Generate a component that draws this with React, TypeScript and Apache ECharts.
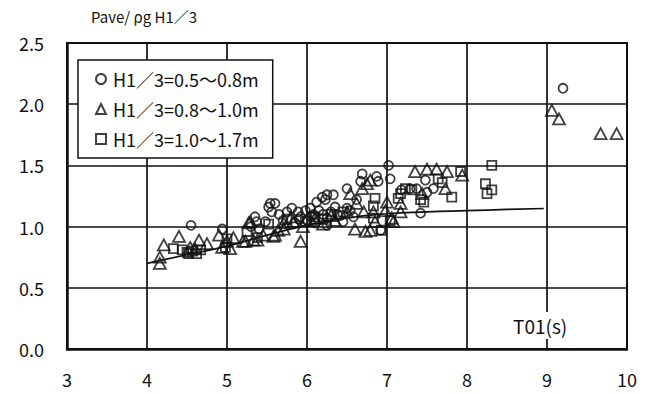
import React, { useEffect, useRef } from "react";
import * as echarts from "echarts";

const xTicks = [3, 4, 5, 6, 7, 8, 9, 10];
const yTicks = [0, 0.5, 1.0, 1.5, 2.0, 2.5];

const seriesNames = ["H1／3=0.5〜0.8m", "H1／3=0.8〜1.0m", "H1／3=1.0〜1.7m"];

const circleData: number[][] = [
  [4.55, 1.01], [4.94, 0.98], [5.3, 1.0], [5.35, 1.08], [5.37, 1.04], [5.4, 0.98], [5.48, 1.04],
  [5.54, 1.19], [5.6, 1.19], [5.56, 1.12], [5.52, 1.16], [5.65, 1.1], [5.7, 1.05], [5.75, 1.12],
  [5.81, 1.15], [5.85, 1.03], [5.89, 1.12], [5.9, 1.06], [5.92, 1.08], [5.98, 1.13], [6.0, 1.05],
  [6.04, 1.15], [6.05, 1.08], [6.08, 1.1], [6.1, 1.03], [6.12, 1.2], [6.15, 1.13], [6.19, 1.24],
  [6.2, 1.1], [6.23, 1.22], [6.25, 1.26], [6.25, 1.07], [6.25, 1.01], [6.3, 1.12], [6.33, 1.26],
  [6.35, 1.16], [6.38, 1.1], [6.42, 1.09], [6.45, 1.04], [6.5, 1.31], [6.5, 1.15], [6.54, 1.13],
  [6.58, 1.08], [6.62, 1.22], [6.67, 1.37], [6.69, 1.43], [6.87, 1.41], [6.89, 1.37], [6.92, 0.97],
  [7.02, 1.5], [7.04, 1.39], [7.18, 1.3], [7.29, 1.31], [7.37, 1.31], [7.42, 1.11], [7.48, 1.38],
  [7.5, 1.28], [7.58, 1.31], [9.2, 2.13],
];

const triangleData: number[][] = [
  [4.16, 0.7], [4.16, 0.75], [4.21, 0.85], [4.4, 0.92], [4.54, 0.83], [4.6, 0.82], [4.65, 0.89],
  [4.75, 0.86], [4.9, 0.93], [4.94, 0.83], [5.04, 0.82], [5.0, 0.88], [5.08, 0.91], [5.2, 0.88],
  [5.23, 0.88], [5.27, 1.03], [5.29, 1.04], [5.33, 0.89], [5.38, 0.89], [5.45, 0.93], [5.58, 0.92],
  [5.6, 0.93], [5.64, 0.97], [5.71, 1.03], [5.71, 0.98], [5.8, 1.08], [5.83, 1.04], [5.92, 0.88],
  [5.95, 1.0], [6.05, 1.05], [6.1, 1.07], [6.2, 1.02], [6.3, 1.09], [6.35, 1.05], [6.5, 1.12],
  [6.54, 1.27], [6.62, 1.19], [6.6, 0.98], [6.69, 1.31], [6.71, 1.12], [6.73, 0.96], [6.75, 1.35],
  [6.79, 0.97], [6.79, 1.38], [6.83, 1.12], [6.85, 1.04], [6.98, 1.13], [7.0, 1.2], [7.06, 1.07],
  [7.08, 1.04], [7.17, 1.19], [7.17, 1.12], [7.35, 1.45], [7.44, 1.27], [7.5, 1.47], [7.62, 1.47],
  [7.73, 1.31], [7.75, 1.45], [7.94, 1.42], [9.06, 1.95], [9.15, 1.88], [9.67, 1.76], [9.87, 1.76],
];

const squareData: number[][] = [
  [4.33, 0.82], [4.44, 0.81], [4.5, 0.79], [4.52, 0.78], [4.57, 0.8], [4.62, 0.78], [4.67, 0.81],
  [4.98, 0.83], [5.0, 0.9], [5.25, 0.96], [5.38, 0.91], [5.52, 1.02], [5.75, 1.06], [5.98, 1.04],
  [6.1, 1.08], [6.2, 1.06], [6.3, 1.1], [6.45, 1.12], [6.83, 1.17], [6.85, 1.23], [6.83, 1.07],
  [6.93, 0.97], [7.04, 1.05], [7.14, 1.23], [7.17, 1.27], [7.23, 1.31], [7.31, 1.3], [7.42, 1.22],
  [7.46, 1.2], [7.64, 1.39], [7.69, 1.36], [7.81, 1.24], [7.92, 1.45], [8.23, 1.35], [8.25, 1.27],
  [8.31, 1.3], [8.31, 1.5],
];

const fitX = [4.0, 4.5, 5.0, 5.5, 6.0, 6.5, 7.0, 7.5, 8.0, 8.5, 8.96];
const fitY = [0.7, 0.77, 0.84, 0.93, 1.01, 1.07, 1.105, 1.12, 1.13, 1.14, 1.148];

const titleText = "Pave/ ρg H1／3";
const xAxisName = "T01(s)";

const FONT = "'Noto Sans CJK JP', 'Noto Sans', sans-serif";
const INK = "#111";

export default function App() {
  const ref = useRef<HTMLDivElement>(null);
  useEffect(() => {
    document.body.style.margin = "0";
    if (!ref.current) return;
    const chart = echarts.init(ref.current, null, { renderer: "svg" });
    const markerStyle = { color: "transparent", borderColor: INK, borderWidth: 1.8 };
    chart.setOption({
      animation: false,
      backgroundColor: "#fff",
      textStyle: { fontFamily: FONT },
      title: {
        text: titleText,
        left: 86,
        top: 4,
        textStyle: { fontFamily: FONT, fontSize: 15, fontWeight: "normal", color: INK },
      },
      grid: {
        left: 67,
        right: 25,
        top: 43,
        bottom: 45,
        show: true,
        borderColor: INK,
        borderWidth: 2,
        backgroundColor: "transparent",
      },
      legend: {
        orient: "vertical",
        left: 78,
        top: 60,
        data: seriesNames,
        backgroundColor: "#fff",
        borderColor: INK,
        borderWidth: 1.5,
        borderRadius: 0,
        padding: [9, 14, 9, 17],
        itemGap: 10,
        itemWidth: 10,
        itemHeight: 10,
        textStyle: { fontFamily: FONT, fontSize: 18, color: INK, lineHeight: 20, padding: [0, 0, 0, 2] },
      },
      xAxis: {
        type: "value",
        min: xTicks[0],
        max: xTicks[xTicks.length - 1],
        interval: 1,
        axisLine: { show: true, onZero: false, lineStyle: { color: INK, width: 2.5 } },
        axisTick: { show: false },
        splitLine: { show: true, lineStyle: { color: INK, width: 1.7 } },
        axisLabel: { fontFamily: FONT, fontSize: 18, color: INK, margin: 21 },
      },
      yAxis: {
        type: "value",
        min: yTicks[0],
        max: yTicks[yTicks.length - 1],
        interval: 0.5,
        axisLine: { show: true, lineStyle: { color: INK, width: 2.5 } },
        axisTick: { show: false },
        splitLine: { show: true, lineStyle: { color: INK, width: 1.7 } },
        axisLabel: {
          fontFamily: FONT,
          fontSize: 18,
          color: INK,
          margin: 23,
          formatter: (v: number) => v.toFixed(1),
        },
      },
      series: [
        {
          name: seriesNames[0],
          type: "scatter",
          symbol: "circle",
          symbolSize: 9,
          itemStyle: markerStyle,
          data: circleData,
          z: 3,
        },
        {
          name: seriesNames[1],
          type: "scatter",
          symbol: "triangle",
          symbolSize: [12, 11],
          itemStyle: markerStyle,
          data: triangleData,
          z: 3,
        },
        {
          name: seriesNames[2],
          type: "scatter",
          symbol: "rect",
          symbolSize: 9,
          itemStyle: markerStyle,
          data: squareData,
          z: 3,
        },
        {
          name: "fit",
          type: "line",
          smooth: true,
          symbol: "none",
          lineStyle: { color: INK, width: 1.7 },
          data: fitX.map((x, i) => [x, fitY[i]]),
          z: 4,
        },
      ],
      graphic: [
        {
          type: "text",
          left: 511,
          top: 312,
          z: 10,
          style: {
            text: xAxisName,
            fontFamily: FONT,
            fontSize: 19,
            fill: INK,
            backgroundColor: "#fff",
            padding: [4, 2],
          },
        },
      ],
    });
    return () => chart.dispose();
  }, []);
  return <div ref={ref} style={{ width: 652, height: 394 }} />;
}
